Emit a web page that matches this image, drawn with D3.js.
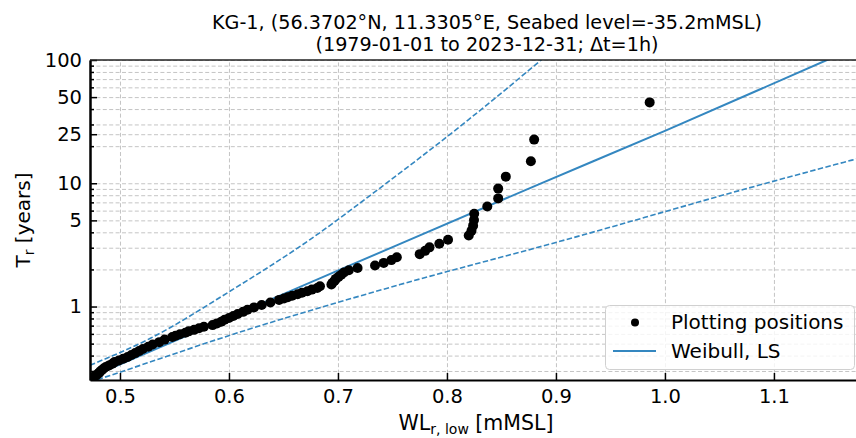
<!DOCTYPE html>
<html><head><meta charset="utf-8">
<script src="https://cdn.jsdelivr.net/npm/d3@7"></script>
<style>body{margin:0;background:#fff}svg{display:block;font-family:"DejaVu Sans",sans-serif}</style>
</head><body><svg id="c" width="856" height="438"></svg>
<script>
const titleLines = ["KG-1, (56.3702°N, 11.3305°E, Seabed level=-35.2mMSL)", "(1979-01-01 to 2023-12-31; Δt=1h)"];
const xTickValues = [0.5, 0.6, 0.7, 0.8, 0.9, 1.0, 1.1];
const xTickLabels = ["0.5", "0.6", "0.7", "0.8", "0.9", "1.0", "1.1"];
const yMajorTicks = [1, 5, 10, 25, 50, 100];
const yMajorLabels = ["1", "5", "10", "25", "50", "100"];
const yMinorTicks = [0.3, 0.4, 0.5, 0.6, 0.7, 0.8, 0.9, 2, 3, 4, 6, 7, 8, 9, 20, 30, 40, 60, 70, 80, 90];

// Plotting positions (WL [mMSL], return period [years])
const ppX = [0.986, 0.880, 0.877, 0.854, 0.847, 0.847, 0.837, 0.825, 0.8248, 0.824,
  0.8225, 0.820, 0.801, 0.793, 0.784, 0.780, 0.775, 0.754, 0.749, 0.742,
  0.734, 0.718, 0.710, 0.7055, 0.703, 0.7005, 0.698, 0.697, 0.695, 0.694,
  0.6835, 0.681, 0.676, 0.672, 0.667, 0.663, 0.658, 0.654, 0.6505, 0.646,
  0.638, 0.630, 0.623, 0.617, 0.613, 0.608, 0.604, 0.600, 0.596, 0.593,
  0.589, 0.585, 0.577, 0.5725, 0.568, 0.563, 0.560, 0.555, 0.551, 0.548,
  0.541, 0.536, 0.530, 0.526, 0.521, 0.5175, 0.514, 0.5105, 0.507, 0.503,
  0.499, 0.495, 0.493, 0.490, 0.487, 0.485, 0.4835, 0.482, 0.481, 0.4795,
  0.478, 0.476, 0.474];
const ppT = [45.3, 22.6, 15.09, 11.32, 9.05, 7.54, 6.47, 5.66, 5.03, 4.53,
  4.11, 3.77, 3.48, 3.23, 3.02, 2.83, 2.66, 2.51, 2.38, 2.26,
  2.155, 2.057, 1.968, 1.886, 1.810, 1.741, 1.676, 1.616, 1.561, 1.509,
  1.460, 1.414, 1.372, 1.331, 1.293, 1.257, 1.223, 1.191, 1.161, 1.132,
  1.078, 1.029, 0.984, 0.943, 0.905, 0.870, 0.838, 0.808, 0.780, 0.754,
  0.730, 0.707, 0.686, 0.666, 0.647, 0.629, 0.612, 0.596, 0.580, 0.566,
  0.539, 0.514, 0.492, 0.471, 0.453, 0.435, 0.419, 0.404, 0.390, 0.377,
  0.365, 0.354, 0.343, 0.333, 0.323, 0.314, 0.306, 0.298, 0.290, 0.283,
  0.276, 0.269, 0.263];

// Weibull LS fit and confidence band
const fitX = [0.4725, 0.7019, 0.8853, 1.0, 1.1486, 1.1808];
const fitT = [0.266, 1.99, 9.9, 26.6, 100, 133];
const ciUpX = [0.4725, 0.5275, 0.6009, 0.6743, 0.7386, 0.8196, 0.8853, 0.8945];
const ciUpT = [0.334, 0.550, 1.33, 3.49, 9.15, 32.7, 98.2, 115];
const ciLoX = [0.4725, 0.4826, 0.6175, 0.7569, 0.9037, 1.0842, 1.1808];
const ciLoT = [0.244, 0.261, 0.651, 1.507, 3.38, 9.54, 16.2];

const legendLabels = ["Plotting positions", "Weibull, LS"];

const L = 90, R = 862, T = 60, B = 380;
const blue = "#3487c0";
const gridColor = "#c4c4c4";
const svg = d3.select("#c");

const x = d3.scaleLinear().domain([0.4725, 1.1808]).range([L, R]);
const y = d3.scaleLog().domain([0.2535, 100]).range([B, T]);

svg.append("defs").append("clipPath").attr("id", "clip")
  .append("rect").attr("x", L).attr("y", T).attr("width", R - L).attr("height", B - T);

// grid
const gx = svg.append("g").attr("transform", `translate(0,${B})`)
  .call(d3.axisBottom(x).tickValues(xTickValues).tickSize(-(B - T)).tickFormat(""));
const gy = svg.append("g").attr("transform", `translate(${L},0)`)
  .call(d3.axisLeft(y).tickValues(yMajorTicks.concat(yMinorTicks)).tickSize(-(R - L)).tickFormat(""));
[gx, gy].forEach(g => {
  g.select(".domain").remove();
  g.selectAll("line").attr("stroke", gridColor).attr("stroke-width", 1).attr("stroke-dasharray", "4,2.4");
});

// lines
const plot = svg.append("g").attr("clip-path", "url(#clip)");
const line = d3.line().x(d => x(d[0])).y(d => y(d[1])).curve(d3.curveMonotoneX);
plot.append("path").datum(ciUpX.map((v, i) => [v, ciUpT[i]])).attr("d", line)
  .attr("fill", "none").attr("stroke", blue).attr("stroke-width", 1.6).attr("stroke-dasharray", "5.5,2.4");
plot.append("path").datum(ciLoX.map((v, i) => [v, ciLoT[i]])).attr("d", line)
  .attr("fill", "none").attr("stroke", blue).attr("stroke-width", 1.6).attr("stroke-dasharray", "5.5,2.4");
plot.append("path").datum(fitX.map((v, i) => [v, fitT[i]])).attr("d", line)
  .attr("fill", "none").attr("stroke", blue).attr("stroke-width", 2);

// points
plot.selectAll("circle.pp").data(ppX.map((v, i) => [v, ppT[i]])).join("circle")
  .attr("class", "pp").attr("cx", d => x(d[0])).attr("cy", d => y(d[1])).attr("r", 5).attr("fill", "#000");

// axes with inward ticks
const ax = svg.append("g").attr("transform", `translate(0,${B})`)
  .call(d3.axisBottom(x).tickValues(xTickValues).tickSize(-7).tickSizeOuter(0).tickPadding(9)
    .tickFormat((d, i) => xTickLabels[i]));
const ayMin = svg.append("g").attr("transform", `translate(${L},0)`)
  .call(d3.axisLeft(y).tickValues(yMinorTicks).tickSize(-4).tickSizeOuter(0).tickFormat(""));
const ay = svg.append("g").attr("transform", `translate(${L},0)`)
  .call(d3.axisLeft(y).tickValues(yMajorTicks).tickSize(-7).tickSizeOuter(0).tickPadding(8)
    .tickFormat((d, i) => yMajorLabels[i]));
[ax, ay, ayMin].forEach(g => {
  g.selectAll(".domain").attr("stroke", "#000").attr("stroke-width", 2);
  g.selectAll(".tick line").attr("stroke", "#000").attr("stroke-width", 1.5);
  g.selectAll("text").attr("font-size", 19.5).attr("fill", "#000").attr("font-family", "DejaVu Sans");
});
// top spine
svg.append("line").attr("x1", L).attr("x2", R).attr("y1", T).attr("y2", T)
  .attr("stroke", "#222").attr("stroke-width", 1.6);

// title
const tt = svg.append("text").attr("text-anchor", "middle").attr("font-size", 19.2).attr("fill", "#000");
tt.append("tspan").attr("x", 487).attr("y", 29).text(titleLines[0]);
tt.append("tspan").attr("x", 487).attr("y", 51).text(titleLines[1]);

// x label
const xl = svg.append("text").attr("x", 476).attr("y", 430).attr("text-anchor", "middle").attr("font-size", 20.5);
xl.append("tspan").text("WL");
xl.append("tspan").attr("font-size", 14).attr("dy", 4).text("r, low");
xl.append("tspan").attr("dy", -4).text(" [mMSL]");

// y label
const yl = svg.append("text").attr("transform", `translate(30,${(T + B) / 2}) rotate(-90)`)
  .attr("text-anchor", "middle").attr("font-size", 20);
yl.append("tspan").text("T");
yl.append("tspan").attr("font-size", 14).attr("dy", 4).text("r");
yl.append("tspan").attr("dy", -4).text(" [years]");

// legend
const lg = svg.append("g");
lg.append("rect").attr("x", 605.5).attr("y", 305.5).attr("width", 249).attr("height", 64).attr("rx", 4)
  .attr("fill", "#fff").attr("fill-opacity", 0.8).attr("stroke", "#d0d0d0").attr("stroke-width", 1);
lg.append("circle").attr("cx", 635).attr("cy", 322.5).attr("r", 4).attr("fill", "#000");
lg.append("line").attr("x1", 613).attr("x2", 656).attr("y1", 351).attr("y2", 351).attr("stroke", blue).attr("stroke-width", 2);
lg.selectAll("text.lt").data(legendLabels).join("text").attr("class", "lt")
  .attr("x", 671).attr("y", (d, i) => 329 + i * 29).attr("font-size", 20).attr("fill", "#000").text(d => d);
</script></body></html>
